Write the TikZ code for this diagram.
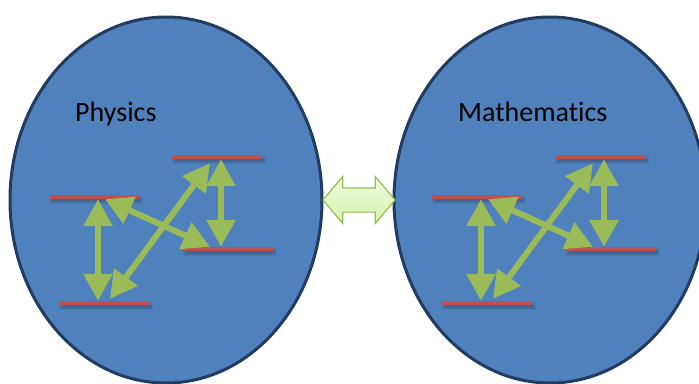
\documentclass[tikz,border=0pt]{standalone}
\usepackage{fontspec}
\setmainfont{Carlito}[Ligatures=NoCommon]
\usetikzlibrary{arrows.meta,shapes.geometric,shapes.arrows,shadows.blur}

\definecolor{ovalblue}{HTML}{4F81BD}
\definecolor{ovaledge}{HTML}{213C5E}
\definecolor{levelred}{HTML}{C0504D}
\definecolor{arrowgreen}{HTML}{9BBB59}
\definecolor{linkhi}{HTML}{F0FCDF}
\definecolor{linklo}{HTML}{D6F2AE}
\definecolor{linkedge}{HTML}{93BE4E}

\begin{document}
\begin{tikzpicture}[
  x=1pt, y=-1pt,
  font=\fontsize{28}{32}\selectfont,
  oval/.style={ellipse, draw=ovaledge, line width=3pt, fill=ovalblue,
    minimum width=312pt, minimum height=366pt, inner sep=0pt},
  level/.style={rectangle, fill=levelred, minimum width=90pt,
    minimum height=4pt, inner sep=0pt,
    blur shadow={shadow xshift=2pt, shadow yshift=-3pt, shadow opacity=25}},
  pair/.style={<->, >={Triangle[length=27pt,width=28pt]}, line width=6pt,
    draw=arrowgreen},
  link/.style={double arrow, double arrow head extend=11.5pt,
    double arrow tip angle=100, minimum height=72pt, minimum width=46pt,
    inner xsep=0pt, inner ysep=11.5pt, draw=linkedge, line width=1.2pt,
    top color=linkhi, bottom color=linklo}
]
  \useasboundingbox (0,0) rectangle (699,383);

  \node[oval] (physoval) at (166,200) {};
  \node[oval] (mathoval) at (550,200) {};
  \node[link] (bridge) at (359,200) {};

  \foreach \p/\dx/\name in {phys/0/Physics, math/383/Mathematics} {
    \begin{scope}[xshift=\dx pt]
      \node[anchor=base west, inner sep=0pt] (\p-name) at (75,121) {\name};

      \node[level] (\p-hi) at (217,157) {};
      \node[level] (\p-up) at (94,197) {};
      \node[level] (\p-lo) at (228,249) {};
      \node[level] (\p-base) at (104,303) {};

      \draw[pair] ([xshift=4pt]\p-up.south) -- ([xshift=-6pt]\p-base.north);
      \draw[pair] ([xshift=4pt]\p-hi.south) -- ([xshift=-7pt]\p-lo.north);
      \draw[pair] ([xshift=11pt]\p-up.south) -- ([xshift=-18pt]\p-lo.north);
      \draw[pair] ([xshift=6pt,yshift=2pt]\p-base.north)
        -- ([xshift=-7pt,yshift=-4pt]\p-hi.south);
    \end{scope}
  }
\end{tikzpicture}
\end{document}
